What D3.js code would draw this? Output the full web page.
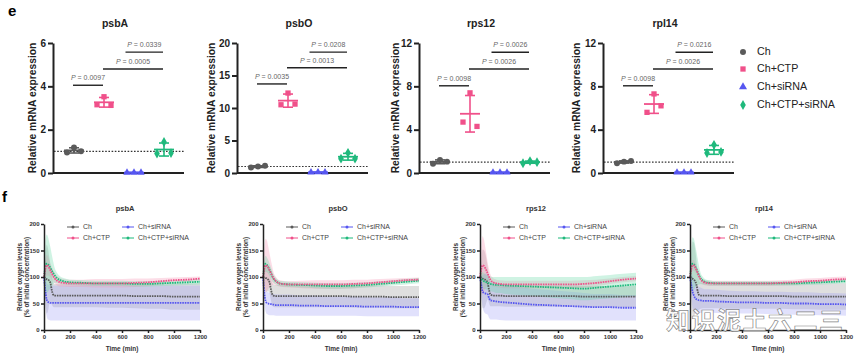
<!DOCTYPE html>
<html>
<head>
<meta charset="utf-8">
<script src="https://cdn.jsdelivr.net/npm/d3@7"></script>
<style>
  body { margin: 0; background: #fff; }
  svg { display: block; font-family: "Liberation Sans", Arial, sans-serif; }
</style>
</head>
<body>
<svg id="fig" width="856" height="353"></svg>
<script>
// ---- data ----
const groups = ["Ch", "Ch+CTP", "Ch+siRNA", "Ch+CTP+siRNA"];
const genes = ["psbA", "psbO", "rps12", "rpl14"];

// panel e: relative mRNA expression, 3 replicates per group
const mrnaPsbA = [[0.95, 1.18, 1.0], [3.15, 3.52, 3.12], [0.02, 0.02, 0.02], [0.9, 1.43, 0.92]];
const mrnaPsbO = [[0.85, 1.0, 1.1], [10.5, 12.3, 10.6], [0.1, 0.12, 0.1], [2.2, 3.1, 2.2]];
const mrnaRps12 = [[0.85, 1.2, 1.05], [4.7, 7.4, 4.3], [0.05, 0.05, 0.05], [0.9, 1.1, 1.0]];
const mrnaRpl14 = [[0.9, 1.05, 1.1], [5.6, 7.3, 6.2], [0.05, 0.05, 0.05], [1.85, 2.6, 1.95]];
const mrna = [mrnaPsbA, mrnaPsbO, mrnaRps12, mrnaRpl14];

const yMax = [6, 20, 12, 12];
const yTicks = [[0, 2, 4, 6], [0, 5, 10, 15, 20], [0, 4, 8, 12], [0, 4, 8, 12]];

// significance brackets (group index from/to, height, label)
const bracketFrom = [0, 1, 1.75];
const bracketTo = [1, 3, 3];
const bracketY = [[4.05, 4.8, 5.58], [13.7, 16.2, 18.6], [8.05, 9.6, 11.15], [8.05, 9.6, 11.15]];
const pValues = [
  ["0.0097", "0.0005", "0.0339"],
  ["0.0035", "0.0013", "0.0208"],
  ["0.0098", "0.0026", "0.0026"],
  ["0.0098", "0.0026", "0.0216"],
];

// panel f: oxygen levels over time (mean and SD), order Ch, Ch+CTP, Ch+siRNA, Ch+CTP+siRNA
const times = [0, 10, 20, 30, 40, 50, 60, 70, 80, 100, 125, 150, 200, 300, 400, 500, 600, 700, 800, 900, 1000, 1100, 1200];

const oxyPsbA = [
  [100, 98, 96, 95, 93, 88, 75, 67, 65, 65, 65, 65, 65, 65, 65, 65, 65, 64, 64, 64, 63, 63, 63],
  [100, 115, 122, 121, 117, 112, 107, 102, 98, 93, 90, 89, 88, 88, 88, 88, 88, 89, 90, 92, 94, 95, 97],
  [100, 75, 58, 53, 52, 51, 51, 51, 51, 51, 51, 51, 51, 51, 51, 51, 51, 51, 51, 51, 51, 51, 51],
  [100, 118, 125, 124, 121, 117, 112, 108, 104, 98, 94, 92, 90, 89, 88, 88, 88, 87, 87, 88, 89, 90, 91],
];
const sdPsbA = [
  [0, 35, 65, 60, 45, 35, 27, 23, 22, 22, 22, 22, 22, 22, 22, 23, 23, 23, 24, 24, 25, 25, 25],
  [0, 15, 20, 18, 15, 13, 12, 11, 10, 9, 8, 7, 7, 7, 8, 8, 8, 8, 7, 6, 5, 5, 4],
  [0, 25, 32, 33, 33, 33, 33, 33, 33, 33, 33, 33, 33, 33, 33, 33, 33, 33, 33, 33, 33, 33, 33],
  [0, 45, 55, 52, 45, 38, 30, 22, 15, 10, 7, 6, 5, 5, 5, 5, 5, 5, 5, 5, 5, 5, 5],
];
const oxyPsbO = [
  [100, 99, 98, 97, 95, 90, 78, 68, 65, 64, 64, 64, 64, 64, 64, 64, 64, 63, 63, 63, 62, 62, 62],
  [100, 115, 122, 121, 118, 113, 108, 103, 98, 92, 88, 87, 86, 86, 86, 86, 86, 87, 88, 90, 92, 94, 95],
  [100, 70, 55, 51, 50, 49, 49, 48, 48, 47, 47, 47, 47, 46, 46, 45, 45, 45, 44, 44, 44, 43, 43],
  [100, 118, 125, 123, 119, 114, 108, 102, 97, 92, 88, 87, 86, 85, 84, 83, 83, 84, 85, 87, 89, 91, 93],
];
const sdPsbO = [
  [0, 15, 25, 25, 22, 21, 21, 21, 21, 21, 21, 21, 21, 21, 21, 21, 21, 21, 21, 21, 21, 21, 21],
  [0, 35, 50, 48, 40, 32, 25, 18, 12, 8, 6, 6, 6, 7, 8, 8, 8, 8, 7, 6, 5, 4, 4],
  [0, 15, 20, 21, 21, 21, 21, 20, 20, 20, 20, 20, 20, 19, 19, 18, 18, 18, 18, 18, 18, 17, 17],
  [0, 12, 15, 14, 13, 12, 11, 10, 8, 6, 5, 5, 5, 5, 5, 5, 5, 5, 5, 5, 5, 5, 5],
];
const oxyRps12 = [
  [100, 99, 97, 96, 95, 93, 88, 75, 67, 65, 65, 65, 64, 64, 64, 64, 64, 64, 63, 63, 63, 63, 63],
  [100, 115, 122, 121, 117, 112, 106, 100, 95, 90, 88, 87, 86, 86, 86, 86, 86, 86, 87, 89, 92, 95, 97],
  [100, 85, 73, 70, 69, 68, 67, 60, 56, 55, 54, 53, 52, 50, 48, 47, 46, 45, 44, 43, 43, 42, 42],
  [100, 97, 94, 92, 91, 90, 89, 88, 87, 86, 85, 85, 84, 83, 82, 81, 80, 79, 78, 80, 82, 84, 86],
];
const sdRps12 = [
  [0, 30, 55, 55, 50, 40, 30, 25, 22, 20, 20, 20, 20, 20, 20, 20, 20, 20, 20, 20, 20, 20, 20],
  [0, 40, 55, 50, 40, 30, 20, 15, 10, 8, 7, 7, 7, 7, 7, 7, 7, 7, 7, 6, 5, 5, 5],
  [0, 20, 30, 35, 38, 38, 38, 37, 36, 35, 34, 34, 34, 32, 30, 29, 28, 27, 26, 25, 25, 24, 24],
  [0, 12, 15, 15, 14, 14, 14, 14, 14, 14, 15, 15, 16, 17, 18, 19, 20, 21, 22, 22, 22, 22, 22],
];
const oxyRpl14 = [
  [100, 99, 97, 95, 92, 85, 72, 66, 65, 65, 65, 65, 65, 64, 64, 64, 64, 64, 63, 63, 63, 63, 63],
  [100, 115, 122, 122, 118, 113, 107, 101, 96, 91, 89, 88, 88, 88, 88, 88, 88, 89, 90, 92, 93, 95, 96],
  [100, 85, 72, 65, 60, 58, 57, 56, 56, 55, 55, 55, 54, 53, 52, 52, 51, 51, 50, 50, 49, 49, 48],
  [100, 118, 125, 124, 120, 115, 109, 103, 98, 93, 90, 89, 88, 88, 88, 88, 88, 88, 88, 89, 90, 91, 92],
];
const sdRpl14 = [
  [0, 40, 70, 70, 60, 45, 35, 28, 25, 24, 24, 24, 24, 24, 24, 24, 24, 24, 24, 24, 25, 25, 25],
  [0, 8, 10, 10, 9, 8, 7, 6, 6, 5, 5, 5, 5, 5, 5, 5, 5, 5, 5, 5, 5, 5, 5],
  [0, 20, 30, 30, 30, 28, 26, 25, 24, 23, 22, 22, 22, 21, 21, 21, 21, 21, 21, 21, 21, 21, 21],
  [0, 40, 50, 48, 40, 32, 24, 17, 11, 7, 5, 5, 4, 4, 4, 4, 4, 4, 4, 4, 4, 4, 4],
];
const oxyMeans = [oxyPsbA, oxyPsbO, oxyRps12, oxyRpl14];
const oxySds = [sdPsbA, sdPsbO, sdRps12, sdRpl14];

// ---- styles / layout ----
const colors = ["#5a5a5a", "#f0508a", "#5656f0", "#1fb97c"];
const bandColors = ["#8c8c8c", "#f48fb0", "#9d9df5", "#5fd6a2"];
const symbols = [d3.symbolCircle, d3.symbolSquare, d3.symbolTriangle, d3.symbolDiamond];

const topLeft = [53, 237, 419, 603];
const topW = 131;
const topY = [173, 43];
const topLabelX = [-20, -25, -23, -26];
const botLeft = [44, 263, 480, 690];
const botW = 156;
const botY = [330, 224];
const botTitleX = [125, 338, 536, 764];

const svg = d3.select("#fig");

svg.append("text").attr("x", 8).attr("y", 16)
  .attr("font-size", 15).attr("font-weight", "bold").text("e");
svg.append("text").attr("x", 2).attr("y", 202)
  .attr("font-size", 15).attr("font-weight", "bold").text("f");

function drawMrna(i) {
  const g = svg.append("g").attr("transform", `translate(${topLeft[i]},0)`);
  const x = d3.scalePoint().domain(groups).range([21, 111]);
  const xi = d3.scaleLinear().domain([0, 3]).range([21, 111]);
  const y = d3.scaleLinear().domain([0, yMax[i]]).range(topY);

  g.append("text").attr("x", 62).attr("y", 27).attr("text-anchor", "middle")
    .attr("font-size", 10.5).attr("font-weight", "bold").attr("fill", "#222").text(genes[i]);

  g.append("text")
    .attr("transform", `translate(${topLabelX[i]},${(topY[0] + topY[1]) / 2}) rotate(-90)`)
    .attr("text-anchor", "middle").attr("dominant-baseline", "middle")
    .attr("font-size", 10.3).attr("font-weight", "bold").attr("fill", "#222")
    .text("Relative mRNA expression");

  const yAxis = g.append("g")
    .call(d3.axisLeft(y).tickValues(yTicks[i]).tickFormat(d3.format("d"))
      .tickSize(5).tickSizeOuter(0).tickPadding(2));
  yAxis.selectAll("path, line").attr("stroke", "#222").attr("stroke-width", 2);
  yAxis.selectAll("text").attr("font-size", 10).attr("font-weight", "bold")
    .attr("fill", "#222").attr("font-family", "Liberation Sans, Arial");

  g.append("line").attr("x1", 0).attr("x2", topW).attr("y1", y(0)).attr("y2", y(0))
    .attr("stroke", "#222").attr("stroke-width", 2);

  // reference at 1
  g.append("line").attr("x1", 1).attr("x2", topW).attr("y1", y(1)).attr("y2", y(1))
    .attr("stroke", "#333").attr("stroke-width", 1.2).attr("stroke-dasharray", "1.6,1.6");

  // brackets
  bracketY[i].forEach((by, k) => {
    const x1 = xi(bracketFrom[k]) - 1;
    const x2 = xi(bracketTo[k]) - 1;
    g.append("line").attr("x1", x1).attr("x2", x2).attr("y1", y(by)).attr("y2", y(by))
      .attr("stroke", "#222").attr("stroke-width", 1.4);
    const t = g.append("text").attr("x", (x1 + x2) / 2).attr("y", y(by) - 5)
      .attr("text-anchor", "middle").attr("font-size", 7).attr("fill", "#666");
    t.append("tspan").attr("font-style", "italic").text("P");
    t.append("tspan").text(" = " + pValues[i][k]);
  });

  mrna[i].forEach((vals, gi) => {
    const cx = x(groups[gi]);
    const m = d3.mean(vals);
    const sd = d3.deviation(vals);
    const col = colors[gi];
    g.append("line").attr("x1", cx).attr("x2", cx).attr("y1", y(m - sd)).attr("y2", y(m + sd))
      .attr("stroke", col).attr("stroke-width", 1.6);
    [m - sd, m + sd].forEach((v) => {
      g.append("line").attr("x1", cx - 5).attr("x2", cx + 5).attr("y1", y(v)).attr("y2", y(v))
        .attr("stroke", col).attr("stroke-width", 1.6);
    });
    g.append("line").attr("x1", cx - 10).attr("x2", cx + 10).attr("y1", y(m)).attr("y2", y(m))
      .attr("stroke", col).attr("stroke-width", 1.8);
    g.selectAll(null).data(vals).enter().append("path")
      .attr("d", d3.symbol().type(symbols[gi]).size(gi === 2 ? 24 : 28))
      .attr("transform", (d, k) => `translate(${cx + (k - 1) * 7},${y(d)})`)
      .attr("fill", col);
  });
}

function drawOxygen(i) {
  const g = svg.append("g").attr("transform", `translate(${botLeft[i]},0)`);
  const x = d3.scaleLinear().domain([0, 1200]).range([0, botW]);
  const y = d3.scaleLinear().domain([0, 200]).range(botY);

  svg.append("text").attr("x", botTitleX[i]).attr("y", 211).attr("text-anchor", "middle")
    .attr("font-size", 7.5).attr("font-weight", "bold").attr("fill", "#333").text(genes[i]);

  const lab = g.append("text")
    .attr("transform", `translate(-21,${(botY[0] + botY[1]) / 2}) rotate(-90)`)
    .attr("text-anchor", "middle").attr("font-size", 6.4).attr("font-weight", "bold").attr("fill", "#333");
  lab.append("tspan").attr("x", 0).attr("dy", -1).text("Relative oxygen levels");
  lab.append("tspan").attr("x", 0).attr("dy", 7.3).text("(% of initial concentration)");

  const means = oxyMeans[i];
  const sds = oxySds[i];
  const area = (gi) => d3.area()
    .x((d, k) => x(times[k]))
    .y0((d, k) => y(Math.max(0, d - sds[gi][k])))
    .y1((d, k) => y(d + sds[gi][k]))
    .curve(d3.curveMonotoneX);
  const line = d3.line().x((d, k) => x(times[k])).y((d) => y(d)).curve(d3.curveMonotoneX);

  [0, 2, 1, 3].forEach((gi) => {
    g.append("path").datum(means[gi]).attr("d", area(gi))
      .attr("fill", bandColors[gi]).attr("fill-opacity", gi === 0 ? 0.28 : 0.3);
  });
  [0, 2, 3, 1].forEach((gi) => {
    g.append("path").datum(means[gi]).attr("d", line)
      .attr("fill", "none").attr("stroke", colors[gi]).attr("stroke-width", 1.8)
      .attr("stroke-dasharray", "1.6,0.9");
  });

  const yAxis = g.append("g")
    .call(d3.axisLeft(y).tickValues([0, 50, 100, 150, 200]).tickSize(3).tickSizeOuter(0).tickPadding(1.5));
  const xAxis = g.append("g").attr("transform", `translate(0,${botY[0]})`)
    .call(d3.axisBottom(x).tickValues(d3.range(0, 1201, 200)).tickFormat(d3.format("d"))
      .tickSize(3).tickSizeOuter(0).tickPadding(2));
  [yAxis, xAxis].forEach((a) => {
    a.selectAll("path, line").attr("stroke", "#222").attr("stroke-width", 1.5);
    a.selectAll("text").attr("font-size", 6).attr("font-weight", "bold")
      .attr("fill", "#333").attr("font-family", "Liberation Sans, Arial");
  });

  g.append("text").attr("x", botW / 2).attr("y", 351).attr("text-anchor", "middle")
    .attr("font-size", 6.5).attr("font-weight", "bold").attr("fill", "#333").text("Time (min)");

  // legend 2x2
  const legPos = [[23, 227], [23, 238], [78, 227], [78, 238]];
  groups.forEach((name, gi) => {
    const [lx, ly] = legPos[gi];
    g.append("line").attr("x1", lx).attr("x2", lx + 12).attr("y1", ly).attr("y2", ly)
      .attr("stroke", colors[gi]).attr("stroke-width", 1);
    g.append("circle").attr("cx", lx + 6).attr("cy", ly).attr("r", 1.5).attr("fill", colors[gi]);
    g.append("text").attr("x", lx + 16).attr("y", ly).attr("dominant-baseline", "middle")
      .attr("font-size", 7).attr("fill", "#444").text(name);
  });
}

genes.forEach((gname, i) => {
  drawMrna(i);
  drawOxygen(i);
});

// top legend
const legY = [52, 69, 87, 105];
groups.forEach((name, gi) => {
  svg.append("path")
    .attr("d", d3.symbol().type(symbols[gi]).size(28))
    .attr("transform", `translate(743,${legY[gi]})`)
    .attr("fill", colors[gi]);
  svg.append("text").attr("x", 757).attr("y", legY[gi]).attr("dominant-baseline", "middle")
    .attr("font-size", 10.7).attr("fill", "#222").text(name);
});

// watermark
svg.append("text").attr("x", 666).attr("y", 329)
  .attr("font-family", "Noto Sans CJK SC").attr("font-size", 24).attr("font-weight", "bold")
  .attr("fill", "#fff").attr("fill-opacity", 0.9).attr("stroke", "#666").attr("stroke-width", 0.7)
  .attr("stroke-opacity", 0.8).attr("letter-spacing", 1.5).text("知识泥土六二三");
</script>
</body>
</html>
